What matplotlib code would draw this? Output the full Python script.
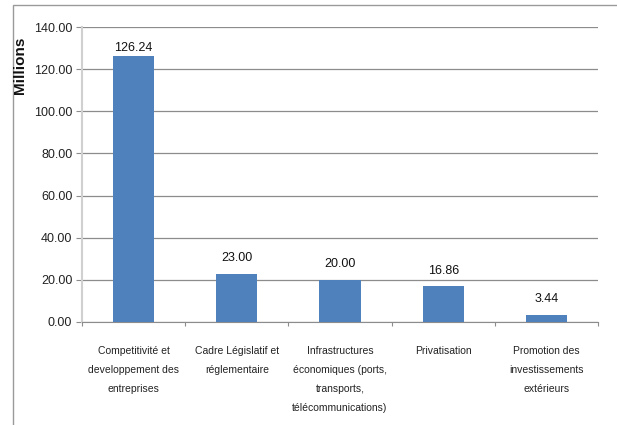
import matplotlib
matplotlib.use("Agg")
import matplotlib.pyplot as plt
from matplotlib.patches import Rectangle

categories = [
    "Competitivité et\ndeveloppement des\nentreprises",
    "Cadre Législatif et\nréglementaire",
    "Infrastructures\néconomiques (ports,\ntransports,\ntélécommunications)",
    "Privatisation",
    "Promotion des\ninvestissements\nextérieurs",
]
values = [126.24, 23.00, 20.00, 16.86, 3.44]
yticks = [0, 20, 40, 60, 80, 100, 120, 140]

plt.rcParams['font.family'] = ['Liberation Sans Narrow', 'Liberation Sans', 'DejaVu Sans']

fig = plt.figure(figsize=(6.17, 4.25), dpi=100)
fig.patch.set_facecolor("white")

# outer chart frame
fig.patches.append(Rectangle((13 / 617, -0.01), 1.0, 1 - 5 / 425 + 0.01,
                             transform=fig.transFigure, fill=False,
                             edgecolor="#9a9a9a", linewidth=1.0))

ax = fig.add_axes([82 / 617, 1 - 322 / 425, (598 - 82) / 617, (322 - 27) / 425])
x = range(len(categories))
bars = ax.bar(x, values, width=0.4, color="#4F81BD", zorder=3)

ax.set_xlim(-0.5, len(categories) - 0.5)
ax.set_ylim(0, 140)
ax.set_yticks(yticks)
ax.set_yticklabels([f"{v:.2f}" for v in yticks], fontsize=9, color="#222222")
ax.yaxis.grid(True, color="#8c8c8c", linewidth=0.9, zorder=0)
ax.tick_params(axis="y", length=4, color="#8c8c8c", pad=3)

ax.set_xticks([i + 0.5 for i in range(len(categories) - 1)] + [-0.5, len(categories) - 0.5])
ax.set_xticklabels([])
ax.tick_params(axis="x", length=3, color="#8c8c8c", direction="out")
for i, lab in enumerate(categories):
    ax.text(i, -11.5, lab, ha="center", va="top", fontsize=7.5, color="#222222",
            linespacing=2.1, transform=ax.transData)

for spine in ["top", "right"]:
    ax.spines[spine].set_visible(False)
ax.spines["left"].set_color("#d0d0d0")
ax.spines["left"].set_linewidth(1.5)
ax.spines["bottom"].set_color("#8c8c8c")

# value labels sit above each bar, kept inside the plot area
for b, v in zip(bars, values):
    ax.text(b.get_x() + b.get_width() / 2, min(v + 4.5, 127), f"{v:.2f}", ha="center",
            va="bottom", fontsize=9, color="#111111", zorder=4)

fig.text(20 / 617, 1 - 65 / 425, "Millions", rotation=90, ha="center", va="center",
         fontsize=11, fontweight="bold", color="#111111")

fig.savefig("out.png", dpi=100)
